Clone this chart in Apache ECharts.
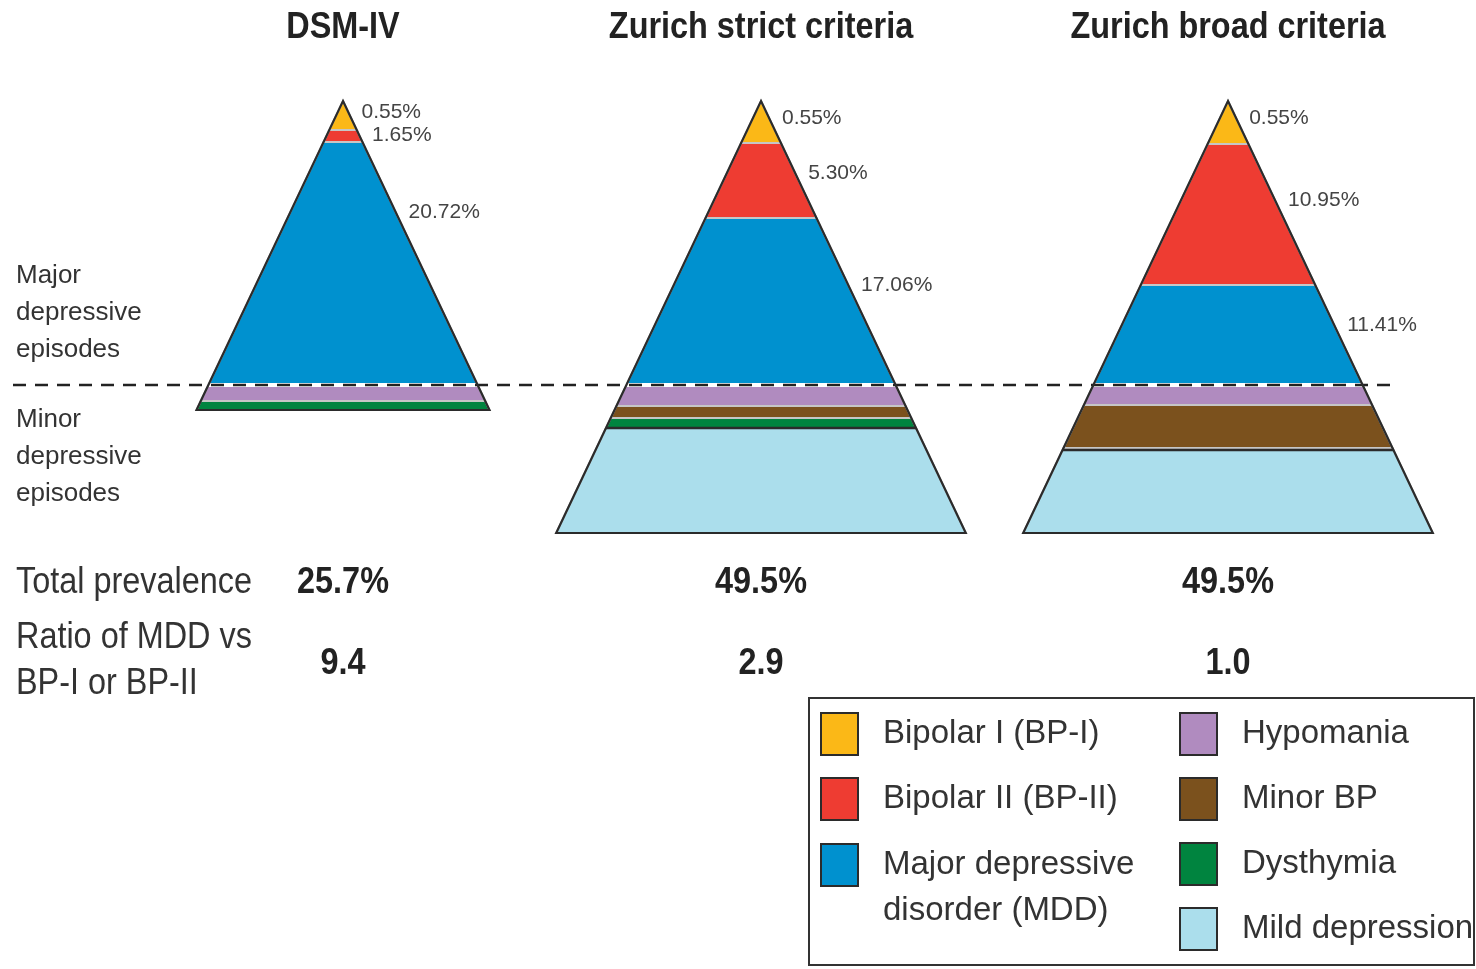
<!DOCTYPE html>
<html>
<head>
<meta charset="utf-8">
<title>Depression / bipolar spectrum pyramids</title>
<script src="https://cdn.jsdelivr.net/npm/echarts@6/dist/echarts.min.js"></script>
<style>
  html, body { margin: 0; padding: 0; background: #fff; }
  #chart { width: 1476px; height: 969px; }
</style>
</head>
<body>
<div id="chart"></div>
<script>
const criteria = ['DSM-IV', 'Zurich strict criteria', 'Zurich broad criteria']
const layers = ['Bipolar I (BP-I)', 'Bipolar II (BP-II)', 'Major depressive disorder (MDD)', 'Hypomania', 'Minor BP', 'Dysthymia', 'Mild depression']
// drawn thickness of each layer (pyramid depth units)
const dsmBands = [29, 12, 243, 16, 0, 9, 0]
const strictBands = [42, 75, 167, 21, 12, 10, 105]
const broadBands = [43, 141, 100, 20, 43, 2, 83]
// prevalence printed beside the major layers
const dsmPrev = [0.55, 1.65, 20.72]
const strictPrev = [0.55, 5.30, 17.06]
const broadPrev = [0.55, 10.95, 11.41]
const totals = [25.7, 49.5, 49.5]
const ratios = [9.4, 2.9, 1.0]

const colors = ['#fbb817', '#ee3c32', '#0091cf', '#b08bbf', '#7b511d', '#00843f', '#abdeec']
const FONT = "'Liberation Sans', Arial, Helvetica, sans-serif"
const SLOPE = 0.474 // half width per unit of depth
const centers = [343, 761, 1228]

const chart = echarts.init(document.getElementById('chart'))

function layerRenderer(label) {
  return (params, api) => {
    const d0 = api.value(0)
    const d1 = api.value(1)
    const pts = [
      api.coord([-SLOPE * d0, d0]),
      api.coord([SLOPE * d0, d0]),
      api.coord([SLOPE * d1, d1]),
      api.coord([-SLOPE * d1, d1]),
    ]
    const children = [{
      type: 'polygon',
      shape: { points: pts },
      style: { fill: api.visual('color'), stroke: '#c6c6c6', lineWidth: 2 },
    }]
    if (label) {
      const dl = d0 + Math.min(0.4 * (d1 - d0), 70)
      const p = api.coord([SLOPE * dl, dl])
      children.push({
        type: 'text',
        x: p[0] + 13,
        y: p[1],
        style: { text: label, fill: '#444', fontFamily: FONT, fontSize: 21, verticalAlign: 'middle', align: 'left' },
      })
    }
    return { type: 'group', children }
  }
}

function outlineRenderer(total, mildTop) {
  return (params, api) => {
    const children = [{
      type: 'polygon',
      shape: { points: [api.coord([0, 0]), api.coord([SLOPE * total, total]), api.coord([-SLOPE * total, total])] },
      style: { fill: 'none', stroke: '#2b2b2b', lineWidth: 2.2 },
    }]
    if (mildTop != null) {
      const a = api.coord([-SLOPE * mildTop, mildTop])
      const b = api.coord([SLOPE * mildTop, mildTop])
      children.push({
        type: 'line',
        shape: { x1: a[0], y1: a[1], x2: b[0], y2: b[1] },
        style: { stroke: '#2b2b2b', lineWidth: 2.5 },
      })
    }
    return { type: 'group', children }
  }
}

const bands = [dsmBands, strictBands, broadBands]
const prevs = [dsmPrev, strictPrev, broadPrev]
const grids = []
const xAxes = []
const yAxes = []
const series = []

bands.forEach((b, g) => {
  grids.push({ left: centers[g] - 220, top: 101, width: 440, height: 440 })
  xAxes.push({ type: 'value', gridIndex: g, min: -220, max: 220, show: false })
  yAxes.push({ type: 'value', gridIndex: g, min: 0, max: 440, inverse: true, show: false })
  let top = 0
  b.forEach((t, k) => {
    if (t > 0) {
      const v = prevs[g][k]
      series.push({
        name: layers[k],
        type: 'custom',
        xAxisIndex: g,
        yAxisIndex: g,
        z: 2,
        itemStyle: { color: colors[k] },
        renderItem: layerRenderer(v != null ? v.toFixed(2) + '%' : null),
        data: [[top, top + t]],
      })
    }
    top += t
  })
  const mild = b[6] > 0 ? top - b[6] : null
  series.push({
    name: 'outline',
    type: 'custom',
    xAxisIndex: g,
    yAxisIndex: g,
    z: 4,
    silent: true,
    renderItem: outlineRenderer(top, mild),
    data: [[top]],
  })
})

// major / minor divider across the whole figure
grids.push({ left: 13, top: 101, width: 1380, height: 440 })
xAxes.push({ type: 'value', gridIndex: 3, min: 0, max: 1, show: false })
yAxes.push({ type: 'value', gridIndex: 3, min: 0, max: 440, inverse: true, show: false })
const majorDepth = dsmBands[0] + dsmBands[1] + dsmBands[2]
series.push({
  name: 'divider',
  type: 'custom',
  xAxisIndex: 3,
  yAxisIndex: 3,
  z: 3,
  silent: true,
  renderItem: (params, api) => {
    const a = api.coord([0, api.value(0)])
    const b = api.coord([1, api.value(0)])
    return {
      type: 'group',
      children: [
        { type: 'line', shape: { x1: a[0], y1: a[1], x2: b[0], y2: b[1] }, style: { stroke: '#fff', lineWidth: 4 } },
        { type: 'line', shape: { x1: a[0], y1: a[1], x2: b[0], y2: b[1] }, style: { stroke: '#222', lineWidth: 2.5, lineDash: [13, 9] } },
      ],
    }
  },
  data: [[majorDepth]],
})

// condensed look of the original type
const SQ = 0.9
const textBase = { fontFamily: FONT, fill: '#333' }
const graphic = []
criteria.forEach((c, i) => {
  graphic.push({ type: 'text', x: centers[i], y: 28, scaleX: SQ, style: { ...textBase, text: c, fontSize: 36, fontWeight: 'bold', fill: '#222', align: 'center', verticalAlign: 'middle' } })
  graphic.push({ type: 'text', x: centers[i], y: 583, scaleX: SQ, style: { ...textBase, text: totals[i].toFixed(1) + '%', fontSize: 36, fontWeight: 'bold', fill: '#222', align: 'center', verticalAlign: 'middle' } })
  graphic.push({ type: 'text', x: centers[i], y: 664, scaleX: SQ, style: { ...textBase, text: ratios[i].toFixed(1), fontSize: 36, fontWeight: 'bold', fill: '#222', align: 'center', verticalAlign: 'middle' } })
})
graphic.push(
  { type: 'text', x: 16, y: 313, style: { ...textBase, text: 'Major\ndepressive\nepisodes', fontSize: 26, lineHeight: 37, verticalAlign: 'middle' } },
  { type: 'text', x: 16, y: 457, style: { ...textBase, text: 'Minor\ndepressive\nepisodes', fontSize: 26, lineHeight: 37, verticalAlign: 'middle' } },
  { type: 'text', x: 16, y: 583, scaleX: SQ, style: { ...textBase, text: 'Total prevalence', fontSize: 36, verticalAlign: 'middle' } },
  { type: 'text', x: 16, y: 661, scaleX: SQ, style: { ...textBase, text: 'Ratio of MDD vs\nBP-I or BP-II', fontSize: 36, lineHeight: 46, verticalAlign: 'middle' } },
  { type: 'rect', shape: { x: 809, y: 698, width: 665, height: 267 }, style: { fill: 'none', stroke: '#333', lineWidth: 2 } }
)

const legendBase = {
  orient: 'vertical',
  top: 712,
  height: 320,
  padding: 0,
  itemWidth: 37,
  itemHeight: 42,
  itemGap: 21,
  icon: 'rect',
  selectedMode: false,
  itemStyle: { borderColor: '#2b2b2b', borderWidth: 2 },
  textStyle: { fontFamily: FONT, fontSize: 33, lineHeight: 42, color: '#333', padding: [0, 0, 0, 20] },
}

chart.setOption({
  animation: false,
  grid: grids,
  xAxis: xAxes,
  yAxis: yAxes,
  legend: [
    { ...legendBase, left: 820, data: [layers[0], layers[1]] },
    {
      // two-line entry: a blank first line keeps "Major depressive" level with the swatch,
      // the text block then reaches 48px above it, so the box starts higher
      ...legendBase,
      left: 820,
      top: 796,
      data: [{ name: layers[2], textStyle: { lineHeight: 46 } }],
      formatter: () => '\nMajor depressive\ndisorder (MDD)',
    },
    { ...legendBase, left: 1179, data: layers.slice(3) },
  ],
  graphic,
  series,
})
</script>
</body>
</html>
